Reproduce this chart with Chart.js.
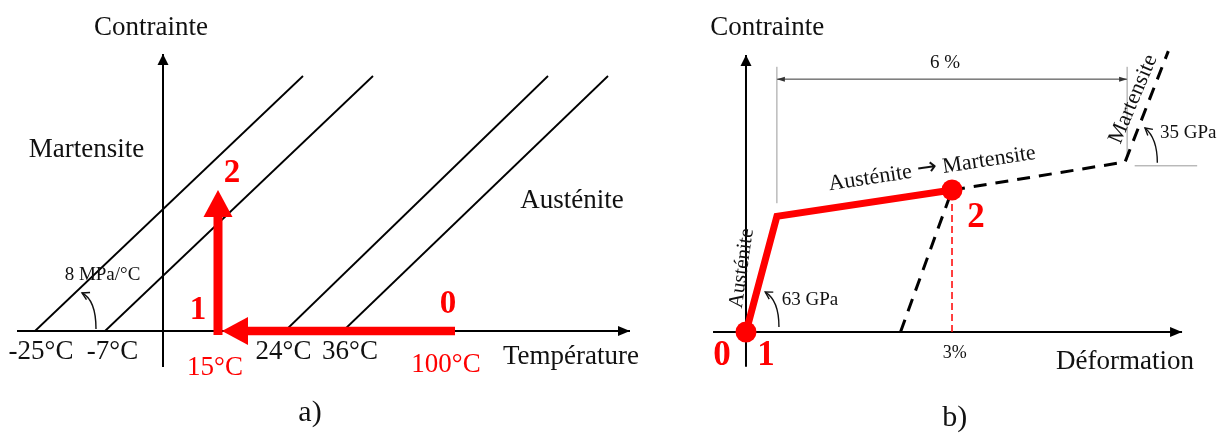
<!DOCTYPE html>
<html lang="fr">
<head>
<meta charset="utf-8">
<title>Contrainte - Température / Déformation</title>
<script src="https://cdn.jsdelivr.net/npm/chart.js@4.4.1/dist/chart.umd.min.js"></script>
<style>
  html, body { margin: 0; padding: 0; background: #fff; }
  #wrap { position: relative; width: 1228px; height: 435px; }
  canvas { position: absolute; top: 0; }
  #chartA { left: 0; }
  #chartB { left: 680px; }
</style>
</head>
<body>
<div id="wrap">
  <canvas id="chartA" width="680" height="435"></canvas>
  <canvas id="chartB" width="548" height="435"></canvas>
</div>
<script>
// ---- a) diagramme contrainte / température (unités du schéma, pas à l'échelle)
const tempLabels = ['-25°C', '-7°C', '15°C', '24°C', '36°C', '100°C'];
const tempPos    = [-24.4, -10.1, 10.4, 24.1, 37.4, 56.6];   // où sont écrites les étiquettes
const lineFeet   = [-25.6, -11.6, 24.4, 36];                 // pieds des droites de transformation
const lineTopsX  = [28, 42, 77, 89];
const lineTopsY  = [51, 51, 51, 51];
const loadX      = [58.4, 11.8, 11, 11];                      // 0 -> 1 puis 1 -> 2
const loadY      = [0, 0, 0, 28.2];

// ---- b) courbe contrainte / déformation (déformation en %, contrainte en MPa)
const strainRed   = [0, 0.45, 3];
const stressRed   = [0, 272, 334];
const strainPlat  = [3, 5.52, 6.15];
const stressPlat  = [334, 400, 661];
const strainUnl   = [2.25, 3];
const stressUnl   = [0, 334];

const SERIF = '"Liberation Serif", "Times New Roman", serif';
const RED = '#ff0000';

function pts(xs, ys) { return xs.map((v, i) => ({ x: v, y: ys[i] })); }

function drawHead(ctx, x0, y0, x1, y1, len, half, color, open) {
  const a = Math.atan2(y1 - y0, x1 - x0);
  ctx.save();
  ctx.translate(x1, y1);
  ctx.rotate(a);
  ctx.beginPath();
  if (open) {
    ctx.moveTo(-len, -half); ctx.lineTo(0, 0); ctx.lineTo(-len, half);
    ctx.strokeStyle = color; ctx.lineWidth = 1.4; ctx.stroke();
  } else {
    ctx.moveTo(0, 0); ctx.lineTo(-len, -half); ctx.lineTo(-len, half); ctx.closePath();
    ctx.fillStyle = color; ctx.fill();
  }
  ctx.restore();
}

// dessine flèches, arcs et textes en coordonnées de données
const sketchPlugin = {
  id: 'sketch',
  afterDatasetsDraw(chart, args, opts) {
    const ctx = chart.ctx;
    const sx = chart.scales.x, sy = chart.scales.y;
    const px = v => sx.getPixelForValue(v), py = v => sy.getPixelForValue(v);
    ctx.save();
    (opts.curves || []).forEach(c => {
      const x0 = px(c.from[0]), y0 = py(c.from[1]);
      const cx = px(c.ctrl[0]), cy = py(c.ctrl[1]);
      const x1 = px(c.to[0]), y1 = py(c.to[1]);
      ctx.beginPath();
      ctx.moveTo(x0, y0);
      ctx.quadraticCurveTo(cx, cy, x1, y1);
      ctx.strokeStyle = '#111'; ctx.lineWidth = 1.4; ctx.stroke();
      drawHead(ctx, cx, cy, x1, y1, 7, 4, '#111', true);
    });
    (opts.heads || []).forEach(h => {
      drawHead(ctx, px(h.from[0]), py(h.from[1]), px(h.to[0]), py(h.to[1]),
        h.len, h.half, h.color || '#000', false);
    });
    (opts.texts || []).forEach(t => {
      ctx.save();
      ctx.translate(px(t.x), py(t.y));
      if (t.rot) ctx.rotate(t.rot * Math.PI / 180);
      ctx.fillStyle = t.color || '#111';
      ctx.textBaseline = 'middle';
      const parts = t.parts || [{ text: t.text }];
      const fontOf = p => (t.bold ? 'bold ' : '') + (p.size || t.size) + 'px ' + (p.font || SERIF);
      let total = 0;
      parts.forEach(p => { ctx.font = fontOf(p); p.w = ctx.measureText(p.text).width; total += p.w; });
      let cur = t.align === 'left' ? 0 : -total / 2;
      ctx.textAlign = 'left';
      parts.forEach(p => { ctx.font = fontOf(p); ctx.fillText(p.text, cur, p.dy || 0); cur += p.w; });
      ctx.restore();
    });
    ctx.restore();
  }
};

function line(data, color, width, extra) {
  return Object.assign({
    data: data, showLine: true, borderColor: color, borderWidth: width,
    pointRadius: 0, fill: false, tension: 0, clip: false
  }, extra || {});
}

function baseOptions(xmin, xmax, ymin, ymax, sketch) {
  return {
    responsive: false,
    animation: false,
    layout: { padding: 0, autoPadding: false },
    scales: {
      x: { type: 'linear', display: false, min: xmin, max: xmax },
      y: { type: 'linear', display: false, min: ymin, max: ymax }
    },
    plugins: { legend: { display: false }, tooltip: { enabled: false }, sketch: sketch }
  };
}

// ---------- a)
const dsA = [
  line(pts([-29.2, 93.4], [0, 0]), '#000', 2),
  line(pts([0, 0], [-7.2, 55.4]), '#000', 2)
];
lineFeet.forEach((f, i) => dsA.push(line(pts([f, lineTopsX[i]], [0, lineTopsY[i]]), '#000', 1.8)));
dsA.unshift(
  line(pts([loadX[0], loadX[1] + 5.2], [loadY[0], loadY[1]]), RED, 8.5),
  line(pts([loadX[2], loadX[3]], [loadY[2] - 0.8, loadY[3] - 5.4]), RED, 9)
);

const textsA = [
  { text: 'Contrainte', x: -2.4, y: 60.6, size: 27 },
  { text: 'Martensite', x: -15.3, y: 36.2, size: 27 },
  { text: 'Austénite', x: 81.8, y: 26, size: 27 },
  { text: 'Température', x: 68, y: -5.2, size: 27, align: 'left' },
  { text: '8 MPa/°C', x: -12.1, y: 11.2, size: 19 },
  { text: '0', x: 57, y: 5.4, size: 33, bold: true, color: RED },
  { text: '1', x: 7, y: 4.2, size: 33, bold: true, color: RED },
  { text: '2', x: 13.8, y: 31.6, size: 33, bold: true, color: RED },
  { text: 'a)', x: 29.4, y: -16.4, size: 30 }
];
tempLabels.forEach((lab, i) => {
  const red = (i === 2 || i === 5);
  textsA.push({ text: lab, x: tempPos[i], y: red ? (i === 2 ? -7.4 : -6.8) : -4.2, size: 27, color: red ? RED : '#111' });
});

new Chart(document.getElementById('chartA'), {
  type: 'scatter',
  data: { datasets: dsA },
  options: baseOptions(-32.6, 103.4, -20.8, 66.2, {
    texts: textsA,
    heads: [
      { from: [80, 0], to: [93.4, 0], len: 12, half: 5 },
      { from: [0, 40], to: [0, 55.4], len: 11, half: 5.5 },
      { from: [loadX[0], 0], to: [loadX[1], 0], len: 26, half: 14, color: RED },
      { from: [loadX[2], 0], to: [loadX[3], loadY[3]], len: 27, half: 14.5, color: RED }
    ],
    curves: [
      { from: [-13.4, 0.4], ctrl: [-13.4, 6.2], to: [-16.2, 7.6] }
    ]
  }),
  plugins: [sketchPlugin]
});

// ---------- b)
const dsB = [
  line(pts([0, strainRed[2]], [0, stressRed[2]]), RED, 0, { showLine: false, pointRadius: 10.5, pointBackgroundColor: RED, pointBorderWidth: 0, order: 0 }),
  line(pts(strainRed, stressRed), RED, 7, { order: 1, borderJoinStyle: 'miter' }),
  line(pts(strainPlat, stressPlat), '#000', 3, { borderDash: [13, 9], order: 2 }),
  line(pts(strainUnl, stressUnl), '#000', 3, { borderDash: [13, 9], order: 2 }),
  line(pts([3, 3], [0, 334]), RED, 1.5, { borderDash: [7, 4], order: 3 }),
  line(pts([-0.48, 6.35], [0, 0]), '#000', 2, { order: 4 }),
  line(pts([0, 0], [-82, 652]), '#000', 2, { order: 4 }),
  line(pts([0.45, 0.45], [303, 624]), '#999', 1, { order: 5 }),
  line(pts([5.55, 5.55], [405, 624]), '#999', 1, { order: 5 }),
  line(pts([0.45, 5.55], [595, 595]), '#333', 1, { order: 5 }),
  line(pts([5.66, 6.57], [391, 391]), '#999', 1, { order: 5 })
];

new Chart(document.getElementById('chartB'), {
  type: 'scatter',
  data: { datasets: dsB },
  options: baseOptions(-0.961, 7.019, -242.4, 781.2, {
    texts: [
      { text: 'Contrainte', x: 0.31, y: 715, size: 27 },
      { text: 'Déformation', x: 5.52, y: -70.6, size: 27 },
      { text: '0', x: -0.35, y: -56.5, size: 35, bold: true, color: RED },
      { text: '1', x: 0.29, y: -56.5, size: 35, bold: true, color: RED },
      { text: '2', x: 3.35, y: 268, size: 35, bold: true, color: RED },
      { text: '3%', x: 3.04, y: -49.4, size: 18 },
      { text: '6 %', x: 2.9, y: 633, size: 19 },
      { text: '63 GPa', x: 0.52, y: 75, size: 19, align: 'left' },
      { text: '35 GPa', x: 6.03, y: 468, size: 19, align: 'left' },
      { text: 'Austénite', x: -0.06, y: 150, size: 21, rot: -82 },
      { text: 'Martensite', x: 5.64, y: 548, size: 22, rot: -67 },
      { x: 2.71, y: 384, size: 22, rot: -8.7, parts: [
        { text: 'Austénite ' },
        { text: '→', font: '"DejaVu Sans", sans-serif', size: 24, dy: -1 },
        { text: ' Martensite' }
      ] },
      { text: 'b)', x: 3.04, y: -202, size: 30 }
    ],
    heads: [
      { from: [5, 0], to: [6.35, 0], len: 12, half: 5 },
      { from: [0, 500], to: [0, 652], len: 11, half: 5.5 },
      { from: [3, 595], to: [0.45, 595], len: 8, half: 2.5, color: '#333' },
      { from: [3, 595], to: [5.55, 595], len: 8, half: 2.5, color: '#333' }
    ],
    curves: [
      { from: [0.48, 12], ctrl: [0.48, 75], to: [0.28, 94] },
      { from: [5.99, 398], ctrl: [5.99, 456], to: [5.81, 480] }
    ]
  }),
  plugins: [sketchPlugin]
});
</script>
</body>
</html>
